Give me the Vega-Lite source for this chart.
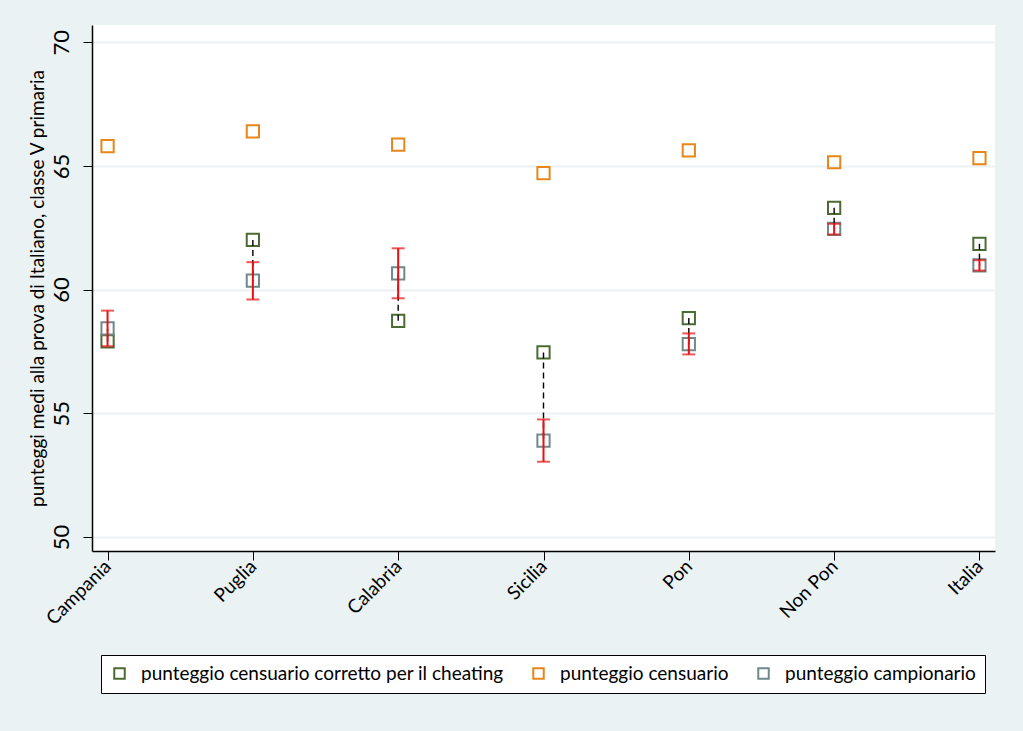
{
  "$schema": "https://vega.github.io/schema/vega-lite/v6.json",
  "autosize": {"type": "none"},
  "width": 903,
  "height": 526,
  "padding": {"left": 92, "top": 25, "right": 28, "bottom": 180},
  "background": "#eaf2f3",
  "config": {
    "view": {"fill": "white", "stroke": null},
    "font": "Lato"
  },
  "datasets": {
    "punti": [
      {"regione": "Campania", "serie": "punteggio censuario corretto per il cheating", "valore": 57.91},
      {"regione": "Campania", "serie": "punteggio censuario", "valore": 65.80},
      {"regione": "Campania", "serie": "punteggio campionario", "valore": 58.43},
      {"regione": "Puglia", "serie": "punteggio censuario corretto per il cheating", "valore": 62.01},
      {"regione": "Puglia", "serie": "punteggio censuario", "valore": 66.40},
      {"regione": "Puglia", "serie": "punteggio campionario", "valore": 60.36},
      {"regione": "Calabria", "serie": "punteggio censuario corretto per il cheating", "valore": 58.74},
      {"regione": "Calabria", "serie": "punteggio censuario", "valore": 65.86},
      {"regione": "Calabria", "serie": "punteggio campionario", "valore": 60.66},
      {"regione": "Sicilia", "serie": "punteggio censuario corretto per il cheating", "valore": 57.46},
      {"regione": "Sicilia", "serie": "punteggio censuario", "valore": 64.71},
      {"regione": "Sicilia", "serie": "punteggio campionario", "valore": 53.89},
      {"regione": "Pon", "serie": "punteggio censuario corretto per il cheating", "valore": 58.85},
      {"regione": "Pon", "serie": "punteggio censuario", "valore": 65.63},
      {"regione": "Pon", "serie": "punteggio campionario", "valore": 57.80},
      {"regione": "Non Pon", "serie": "punteggio censuario corretto per il cheating", "valore": 63.31},
      {"regione": "Non Pon", "serie": "punteggio censuario", "valore": 65.15},
      {"regione": "Non Pon", "serie": "punteggio campionario", "valore": 62.46},
      {"regione": "Italia", "serie": "punteggio censuario corretto per il cheating", "valore": 61.85},
      {"regione": "Italia", "serie": "punteggio censuario", "valore": 65.32},
      {"regione": "Italia", "serie": "punteggio campionario", "valore": 60.98}
    ],
    "barre": [
      {"regione": "Campania", "corretto": 57.91, "campionario": 58.43, "lo": 57.71, "hi": 59.15},
      {"regione": "Puglia", "corretto": 62.01, "campionario": 60.36, "lo": 59.60, "hi": 61.11},
      {"regione": "Calabria", "corretto": 58.74, "campionario": 60.66, "lo": 59.65, "hi": 61.67},
      {"regione": "Sicilia", "corretto": 57.46, "campionario": 53.89, "lo": 53.04, "hi": 54.75},
      {"regione": "Pon", "corretto": 58.85, "campionario": 57.80, "lo": 57.38, "hi": 58.23},
      {"regione": "Non Pon", "corretto": 63.31, "campionario": 62.46, "lo": 62.23, "hi": 62.66},
      {"regione": "Italia", "corretto": 61.85, "campionario": 60.98, "lo": 60.77, "hi": 61.19}
    ]
  },
  "encoding": {
    "x": {
      "field": "regione",
      "type": "nominal",
      "sort": ["Campania", "Puglia", "Calabria", "Sicilia", "Pon", "Non Pon", "Italia"],
      "scale": {"type": "point", "padding": 0.107},
      "axis": {
        "title": null,
        "labelAngle": -45,
        "labelAlign": "right",
        "labelBaseline": "middle",
        "labelFontSize": 19,
        "labelColor": "black",
        "labelPadding": 3,
        "tickSize": 9,
        "tickColor": "black",
        "domainColor": "black",
        "domainWidth": 1.5,
        "grid": false
      }
    }
  },
  "layer": [
    {
      "data": {"name": "punti"},
      "mark": {"type": "point", "shape": "square", "filled": false, "size": 150, "strokeWidth": 2, "opacity": 1},
      "encoding": {
        "y": {
          "field": "valore",
          "type": "quantitative",
          "scale": {"domain": [49.43, 70.7], "nice": false, "zero": false},
          "axis": {
            "title": "punteggi medi alla prova di Italiano, classe V primaria",
            "titleFontSize": 19,
            "titleFontWeight": "normal",
            "titleColor": "black",
            "titlePadding": 3,
            "values": [50, 55, 60, 65, 70],
            "labelAngle": 270,
            "labelAlign": "center",
            "labelBaseline": "bottom",
            "labelFontSize": 22,
            "labelColor": "black",
            "labelPadding": 10,
            "tickSize": 9,
            "tickColor": "black",
            "domainColor": "black",
            "domainWidth": 1.5,
            "grid": true,
            "gridColor": "#eaf2f3",
            "gridWidth": 2
          }
        },
        "color": {
          "field": "serie",
          "type": "nominal",
          "scale": {
            "domain": ["punteggio censuario corretto per il cheating", "punteggio censuario", "punteggio campionario"],
            "range": ["#4b6b33", "#e8861a", "#6e8a8a"]
          },
          "legend": {
            "title": null,
            "orient": "none",
            "legendX": 9,
            "legendY": 630,
            "direction": "horizontal",
            "columns": 3,
            "gridAlign": "none",
            "labelFontSize": 19,
            "labelLimit": 0,
            "labelColor": "black",
            "symbolType": "square",
            "symbolSize": 110,
            "symbolStrokeWidth": 2,
            "symbolFillColor": "white",
            "columnPadding": 25,
            "labelOffset": 12,
            "fillColor": "white",
            "strokeColor": "black",
            "padding": 9
          }
        }
      }
    },
    {
      "data": {"name": "barre"},
      "mark": {"type": "rule", "color": "black", "strokeWidth": 1.4, "strokeDash": [6, 4]},
      "encoding": {
        "y": {"field": "corretto", "type": "quantitative"},
        "y2": {"field": "campionario"}
      }
    },
    {
      "data": {"name": "barre"},
      "mark": {"type": "rule", "color": "#ea0f13", "strokeWidth": 2},
      "encoding": {
        "y": {"field": "lo", "type": "quantitative"},
        "y2": {"field": "hi"}
      }
    },
    {
      "data": {"name": "barre"},
      "mark": {"type": "tick", "color": "#ea0f13", "thickness": 2, "size": 13, "orient": "horizontal"},
      "encoding": {
        "y": {"field": "lo", "type": "quantitative"}
      }
    },
    {
      "data": {"name": "barre"},
      "mark": {"type": "tick", "color": "#ea0f13", "thickness": 2, "size": 13, "orient": "horizontal"},
      "encoding": {
        "y": {"field": "hi", "type": "quantitative"}
      }
    }
  ]
}
